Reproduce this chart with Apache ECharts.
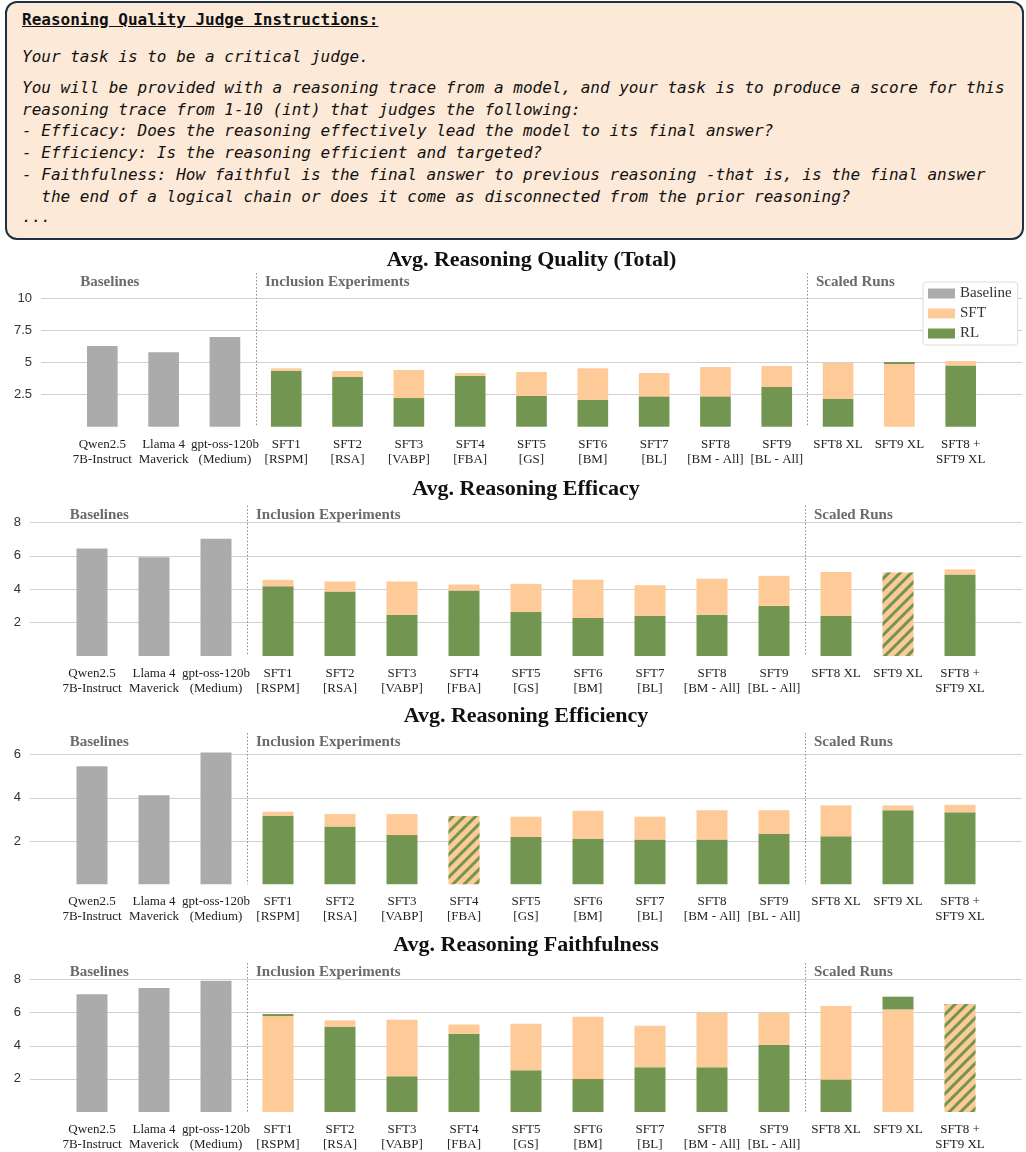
<!DOCTYPE html>
<html>
<head>
<meta charset="utf-8">
<title>Avg. Reasoning Quality</title>
<script src="https://cdn.jsdelivr.net/npm/echarts@6/dist/echarts.min.js"></script>
<style>
html, body { margin: 0; padding: 0; background: #fff; }
#page { position: relative; width: 1026px; height: 1152px; }
#box {
  position: absolute; left: 5px; top: 1px; width: 1019px; height: 239px;
  box-sizing: border-box; border: 2px solid #1d3140; border-radius: 12px;
  background: #fde9d7; z-index: 2;
}
#box div {
  position: absolute; left: 15px; height: 22px; line-height: 22px;
  font-family: "DejaVu Sans Mono", monospace; font-size: 16px; font-style: italic;
  color: #111; white-space: pre;
}
#box .head { font-style: normal; font-weight: bold; text-decoration: underline; }
#chart { position: absolute; left: 0; top: 0; width: 1026px; height: 1152px; }
</style>
</head>
<body>
<div id="page">
  <div id="box">
    <div class="head" style="top:6px">Reasoning Quality Judge Instructions:</div>
    <div style="top:43px">Your task is to be a critical judge.</div>
    <div style="top:74px">You will be provided with a reasoning trace from a model, and your task is to produce a score for this</div>
    <div style="top:96px">reasoning trace from 1-10 (int) that judges the following:</div>
    <div style="top:117px">- Efficacy: Does the reasoning effectively lead the model to its final answer?</div>
    <div style="top:139px">- Efficiency: Is the reasoning efficient and targeted?</div>
    <div style="top:161px">- Faithfulness: How faithful is the final answer to previous reasoning -that is, is the final answer</div>
    <div style="top:183px">  the end of a logical chain or does it come as disconnected from the prior reasoning?</div>
    <div style="top:203px">...</div>
  </div>
  <div id="chart"></div>
</div>
<script>
// x 轴类别
var labels = ["Qwen2.5\n7B-Instruct", "Llama 4\nMaverick", "gpt-oss-120b\n(Medium)",
  "SFT1\n[RSPM]", "SFT2\n[RSA]", "SFT3\n[VABP]", "SFT4\n[FBA]", "SFT5\n[GS]",
  "SFT6\n[BM]", "SFT7\n[BL]", "SFT8\n[BM - All]", "SFT9\n[BL - All]",
  "SFT8 XL", "SFT9 XL", "SFT8 +\nSFT9 XL"];
var groupNames = ["Baselines", "Inclusion Experiments", "Scaled Runs"];
var groupStart = [0, 3, 12];

// 数据
var totalBase = [6.30, 5.81, 7.00];
var totalSft = [4.56, 4.35, 4.43, 4.19, 4.27, 4.56, 4.19, 4.66, 4.74, 4.97, 4.90, 5.13];
var totalRl = [4.38, 3.88, 2.24, 3.96, 2.42, 2.11, 2.37, 2.37, 3.10, 2.19, 5.05, 4.79];

var efficacyBase = [6.43, 5.91, 7.02];
var efficacySft = [4.56, 4.46, 4.46, 4.28, 4.32, 4.56, 4.24, 4.62, 4.80, 5.03, 5.00, 5.19];
var efficacyRl = [4.18, 3.86, 2.47, 3.92, 2.63, 2.27, 2.41, 2.47, 3.00, 2.41, 5.00, 4.88];

var efficiencyBase = [5.46, 4.12, 6.10];
var efficiencySft = [3.36, 3.25, 3.25, 3.16, 3.13, 3.40, 3.13, 3.43, 3.43, 3.65, 3.65, 3.68];
var efficiencyRl = [3.17, 2.68, 2.28, 3.16, 2.19, 2.11, 2.07, 2.07, 2.33, 2.22, 3.43, 3.33];

var faithBase = [7.11, 7.49, 7.94];
var faithSft = [5.80, 5.54, 5.58, 5.29, 5.33, 5.76, 5.21, 6.00, 6.00, 6.40, 6.20, 6.53];
var faithRl = [5.92, 5.15, 2.16, 4.73, 2.53, 2.00, 2.71, 2.71, 4.06, 1.96, 6.97, 6.53];

var panelTitles = ["Avg. Reasoning Quality (Total)", "Avg. Reasoning Efficacy",
  "Avg. Reasoning Efficiency", "Avg. Reasoning Faithfulness"];
var panelMax = [12, 9, 7, 9];
var panelStep = [2.5, 2, 2, 2];
var baseVals = [totalBase, efficacyBase, efficiencyBase, faithBase];
var sftVals = [totalSft, efficacySft, efficiencySft, faithSft];
var rlVals = [totalRl, efficacyRl, efficiencyRl, faithRl];

// 布局
var gridLefts = [41, 30, 30, 30];
var gridTops = [273.1, 505.7, 733.1, 963.1];
var gridHeights = [153.6, 150.3, 151.2, 151.2];
var titleTops = [249, 478, 705, 934];

var GRAY = "#ababab", ORANGE = "#fdca98", GREEN = "#729651";
var hatch = {
  symbol: "rect", symbolSize: 1, color: GREEN,
  dashArrayX: [1, 0], dashArrayY: [3, 4.5], rotation: -Math.PI / 4
};

// 两端各留半格空白
var cats = [""].concat(labels, [""]);

function drawGroups(params, api) {
  var cs = params.coordSys;
  var k = params.dataIndex;
  var i = api.value(0);
  var x = api.coord([i, 0])[0];
  var step = api.coord([i + 1, 0])[0] - x;
  var items = [];
  var textX = x - step * 0.36;
  if (k > 0) {
    var sx = Math.round(x - step / 2) + 0.5;
    items.push({
      type: "line",
      shape: { x1: sx, y1: cs.y, x2: sx, y2: cs.y + cs.height },
      style: { stroke: "#8a8a8a", lineWidth: 1, lineDash: [1.5, 2] }
    });
    textX = sx + 8.5;
  }
  items.push({
    type: "text", x: textX, y: cs.y + 9,
    style: {
      text: groupNames[k], fill: "#6b6b6b", fontSize: 15, fontWeight: "bold",
      fontFamily: "Liberation Serif", verticalAlign: "middle", align: "left"
    }
  });
  return { type: "group", children: items };
}

var grids = [], xAxes = [], yAxes = [], titles = [], series = [];
for (var p = 0; p < 4; p++) {
  grids.push({ left: gridLefts[p], right: 4, top: gridTops[p], height: gridHeights[p] });
  titles.push({
    text: panelTitles[p], left: (gridLefts[p] + 1022) / 2, top: titleTops[p],
    textAlign: "center", padding: 0,
    textStyle: { fontFamily: "Liberation Serif", fontSize: 22, fontWeight: "bold", color: "#111" }
  });
  xAxes.push({
    type: "category", gridIndex: p, data: cats, boundaryGap: false,
    axisLine: { show: false }, axisTick: { show: false },
    axisLabel: { interval: 0, margin: 10, fontFamily: "Liberation Serif", fontSize: 13,
      lineHeight: 15, color: "#222" }
  });
  yAxes.push({
    type: "value", gridIndex: p, min: 0, max: panelMax[p], interval: panelStep[p],
    axisLine: { show: false }, axisTick: { show: false },
    axisLabel: { margin: 9, fontFamily: "Liberation Sans", fontSize: 13, color: "#333",
      showMinLabel: false, showMaxLabel: false },
    splitLine: { show: true, showMinLine: false, showMaxLine: false,
      lineStyle: { color: "#d0d0d0", width: 1 } }
  });

  // 较低的分数在下，两者之差叠在上面；相等时画斜纹
  var empty = cats.map(function () { return null; });
  var b = empty.slice();
  var lowSft = empty.slice(), lowRl = empty.slice(), upSft = empty.slice(), upRl = empty.slice();
  baseVals[p].forEach(function (v, j) { b[j + 1] = v; });
  sftVals[p].forEach(function (s, j) {
    var r = rlVals[p][j], c = j + 4;
    if (s < r) {
      lowSft[c] = s;
      upRl[c] = r - s;
    } else if (s > r) {
      lowRl[c] = r;
      upSft[c] = s - r;
    } else {
      lowRl[c] = { value: r, itemStyle: { color: ORANGE, decal: hatch } };
    }
  });

  var common = { type: "bar", xAxisIndex: p, yAxisIndex: p, barWidth: "50%", barGap: "-100%",
    emphasis: { disabled: true } };
  var stacked = Object.assign({ stack: "s" + p }, common);
  series.push(Object.assign({ name: "Baseline", data: b, itemStyle: { color: GRAY } }, common));
  series.push(Object.assign({ name: "SFT", data: lowSft, itemStyle: { color: ORANGE } }, stacked));
  series.push(Object.assign({ name: "RL", data: lowRl, itemStyle: { color: GREEN } }, stacked));
  series.push(Object.assign({ name: "SFT", data: upSft, itemStyle: { color: ORANGE } }, stacked));
  series.push(Object.assign({ name: "RL", data: upRl, itemStyle: { color: GREEN } }, stacked));
  series.push({
    type: "custom", xAxisIndex: p, yAxisIndex: p, silent: true,
    data: groupStart.map(function (s) { return [s + 1, 0]; }),
    renderItem: drawGroups, z: 3
  });
}

var myChart = echarts.init(document.getElementById("chart"));
myChart.setOption({
  animation: false,
  title: titles,
  grid: grids,
  xAxis: xAxes,
  yAxis: yAxes,
  legend: {
    data: ["Baseline", "SFT", "RL"], orient: "vertical", left: 923, top: 282,
    icon: "rect", itemWidth: 27, itemHeight: 10, itemGap: 5,
    backgroundColor: "#fff", borderColor: "#dcdcdc", borderWidth: 1, borderRadius: 3,
    padding: [4, 6, 4, 5], selectedMode: false,
    textStyle: { fontFamily: "Liberation Serif", fontSize: 15, color: "#333" }
  },
  series: series
});
</script>
</body>
</html>
